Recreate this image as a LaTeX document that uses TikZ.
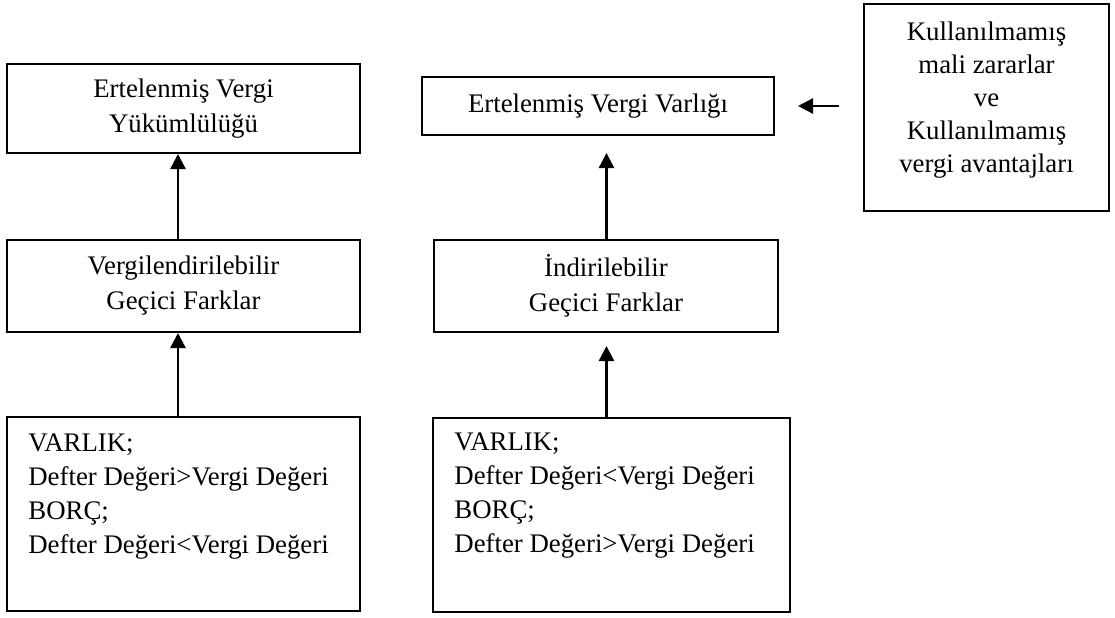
\documentclass[tikz,border=0pt]{standalone}
\usepackage{fontspec}
\setmainfont{Liberation Serif}
\usetikzlibrary{arrows.meta,positioning}
\tikzset{
  kutu/.style={draw, line width=1pt, rectangle, inner sep=0pt, align=center, font=\fontsize{13.4}{17.5}\selectfont},
  kutumetin/.style={inner sep=0pt, font=\fontsize{13.4}{17}\selectfont},
  ok/.style={-{Triangle[length=7.5pt,width=7.5pt]}, line width=1.2pt}
}
\begin{document}
\begin{tikzpicture}[x=0.5pt, y=-0.5pt]
    \useasboundingbox (0,0) rectangle (1115,617);

    % Left column
    \node[kutu, minimum width=176.5pt, minimum height=44.5pt] (evy) at (183.5,108.5) {Ertelenmiş Vergi\\Yükümlülüğü};
    \node[kutu, minimum width=176.5pt, minimum height=46pt] (vgf) at (183.5,286) {Vergilendirilebilir\\Geçici Farklar};
    \node[kutu, minimum width=176.5pt, minimum height=97pt] (solkosul) at (183.5,514) {};
    \node[kutumetin, align=left, anchor=north west] (soltxt) at ([xshift=11pt,yshift=-8.5pt]solkosul.north west)
        {VARLIK;\\Defter Değeri>Vergi Değeri\\BORÇ;\\Defter Değeri<Vergi Değeri};

    % Middle column
    \node[kutu, minimum width=176pt, minimum height=29pt] (evv) at (598,106) {Ertelenmiş Vergi Varlığı};
    \node[kutu, minimum width=172pt, minimum height=46pt] (igf) at (606,286) {İndirilebilir\\Geçici Farklar};
    \node[kutu, minimum width=178.5pt, minimum height=97pt] (sagkosul) at (611.5,515) {};
    \node[kutumetin, align=left, anchor=north west] (sagtxt) at ([xshift=11pt,yshift=-7.5pt]sagkosul.north west)
        {VARLIK;\\Defter Değeri<Vergi Değeri\\BORÇ;\\Defter Değeri>Vergi Değeri};

    % Right box
    \node[kutu, minimum width=122.5pt, minimum height=103.5pt] (kmz) at (986.5,107.5) {};
    \node[kutumetin, align=center, anchor=north, font=\fontsize{13.4}{16.5}\selectfont] (kmztxt) at ([yshift=-9pt]kmz.north)
        {Kullanılmamış\\mali zararlar\\ve\\Kullanılmamış\\vergi avantajları};

    % Arrows
    \coordinate (solx) at (178,0);
    \coordinate (ortax) at (606.5,0);
    \draw[ok] (vgf.north -| solx) -- (evy.south -| solx);
    \draw[ok] (solkosul.north -| solx) -- (vgf.south -| solx);
    \draw[ok, shorten >=8.5pt] (igf.north -| ortax) -- (evv.south -| ortax);
    \draw[ok, shorten >=6.5pt] (sagkosul.north -| ortax) -- (igf.south -| ortax);
    \draw[ok, shorten <=12pt, shorten >=11.5pt] (kmz.west |- evv.east) -- (evv.east);
\end{tikzpicture}
\end{document}
